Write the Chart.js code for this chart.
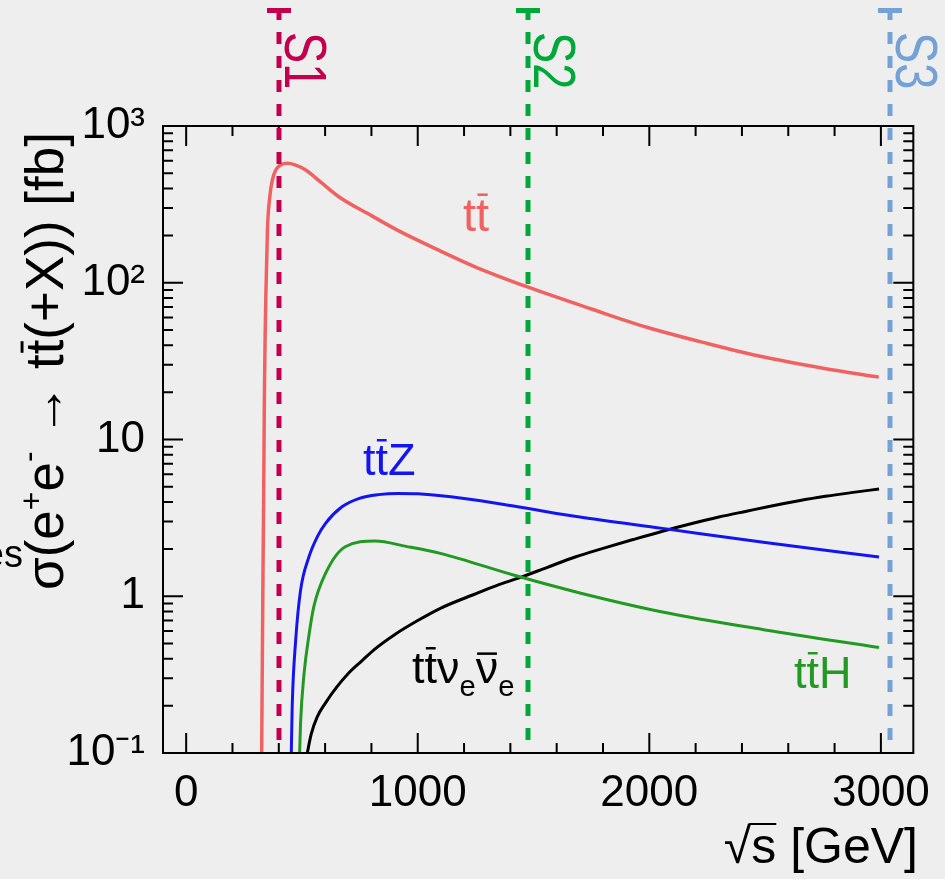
<!DOCTYPE html>
<html>
<head>
<meta charset="utf-8">
<script src="https://cdn.jsdelivr.net/npm/chart.js@4/dist/chart.umd.min.js"></script>
<style>
  html, body { margin: 0; padding: 0; background: #eeeeee; }
  canvas { display: block; }
</style>
</head>
<body>
<canvas id="graficoSecoes" width="945" height="879"></canvas>
<script>
// valores (sqrt(s) em GeV, secao de choque em fb)
const ttX = [326, 331, 335, 338, 341, 344, 351, 361, 372, 387, 408, 437, 470, 516, 580, 659, 800, 916, 1088, 1250, 1474, 1750, 1989, 2250, 2490, 2750, 2991];
const ttY = [0.1, 1, 5, 20, 45, 81, 217, 352, 452, 524, 564, 578, 565, 524, 440, 354, 268, 215, 162, 126, 94, 68, 52, 41, 33.7, 28.5, 25];

const ttZX = [454, 458, 473, 494, 530, 566, 602, 673, 745, 830, 916, 1000, 1200, 1431, 1700, 2057, 2500, 2992];
const ttZY = [0.1, 0.2, 0.525, 1.09, 1.78, 2.39, 2.92, 3.72, 4.2, 4.45, 4.53, 4.5, 4.2, 3.72, 3.2, 2.71, 2.2, 1.78];

const ttHX = [490, 494, 509, 530, 551, 602, 687, 816, 950, 1102, 1417, 1700, 2057, 2500, 2992];
const ttHY = [0.1, 0.155, 0.32, 0.56, 0.855, 1.40, 2.07, 2.25, 2.08, 1.87, 1.36, 1.05, 0.794, 0.61, 0.471];

const ttNuX = [523, 540, 566, 602, 650, 702, 760, 816, 900, 1000, 1100, 1245, 1340, 1444, 1560, 1680, 1800, 1930, 2057, 2180, 2300, 2420, 2517, 2640, 2760, 2880, 2992];
const ttNuY = [0.1, 0.132, 0.17, 0.209, 0.263, 0.324, 0.389, 0.462, 0.569, 0.70, 0.841, 1.03, 1.17, 1.32, 1.53, 1.78, 2.02, 2.30, 2.60, 2.90, 3.20, 3.49, 3.74, 4.05, 4.34, 4.60, 4.83];

const xTicks = [0, 1000, 2000, 3000];
const yTicks = [0.1, 1, 10, 100, 1000];
const yTickLabels = ["10\u207B\u00B9", "1", "10", "10\u00B2", "10\u00B3"];

const stageNames = ["S1", "S2", "S3"];
const stageEnergy = [399, 1478, 3041];

const FONTE = '"Liberation Sans", Arial, Helvetica, sans-serif';

function pontos(xs, ys) {
    return xs.map((x, i) => ({ x: x, y: ys[i] }));
}

// desenha texto com partes (sobrescrito, subscrito, barra) a partir de (0,0)
function textoRico(ctx, partes, tam, cor) {
    let x = 0;
    ctx.fillStyle = cor;
    for (const p of partes) {
        const s = tam * (p.k || 1);
        ctx.font = s + "px " + FONTE;
        const w = ctx.measureText(p.t).width;
        ctx.fillText(p.t, x, (p.dy || 0) * tam);
        if (p.bar) {
            ctx.fillRect(x + s * 0.03, (p.dy || 0) * tam - s * p.bar, w - s * 0.06, Math.max(2, s * 0.055));
        }
        x += w;
    }
    return x;
}

const fundoEMoldura = {
    id: "fundoEMoldura",
    beforeDraw(chart) {
        const ctx = chart.ctx;
        ctx.save();
        ctx.fillStyle = "#eeeeee";
        ctx.fillRect(0, 0, chart.width, chart.height);
        ctx.restore();
    },
    afterDatasetsDraw(chart) {
        const { ctx, chartArea: a, scales: { x, y } } = chart;
        ctx.save();
        ctx.strokeStyle = "#000";
        ctx.lineWidth = 2;
        ctx.strokeRect(a.left, a.top, a.right - a.left, a.bottom - a.top);

        ctx.beginPath();
        for (let v = 0; v <= 3100; v += 200) {
            const px = x.getPixelForValue(v);
            const len = v % 1000 === 0 ? 20 : 10;
            ctx.moveTo(px, a.bottom); ctx.lineTo(px, a.bottom - len);
            ctx.moveTo(px, a.top); ctx.lineTo(px, a.top + len);
        }
        for (let d = -1; d <= 3; d++) {
            for (let m = 1; m <= 9; m++) {
                const v = m * Math.pow(10, d);
                if (v > 1000) break;
                const py = y.getPixelForValue(v);
                const len = m === 1 ? 20 : 10;
                ctx.moveTo(a.left, py); ctx.lineTo(a.left + len, py);
                ctx.moveTo(a.right, py); ctx.lineTo(a.right - len, py);
            }
        }
        ctx.stroke();

        // linhas tracejadas dos estagios
        const cores = ["#c4004e", "#00a83a", "#74a2d6"];
        stageEnergy.forEach((e, i) => {
            const px = Math.round(x.getPixelForValue(e));
            ctx.fillStyle = cores[i];
            ctx.fillRect(px - 12, 8, 24, 5);
            ctx.fillRect(px - 2.5, 8, 5, 12);
            ctx.strokeStyle = cores[i];
            ctx.lineWidth = 5;
            ctx.setLineDash([12, 12]);
            ctx.beginPath();
            ctx.moveTo(px, 32);
            ctx.lineTo(px, 746);
            ctx.stroke();
            ctx.setLineDash([]);

            ctx.save();
            ctx.translate(px + 6, 32);
            ctx.rotate(Math.PI / 2);
            ctx.scale(0.78, 1);
            ctx.font = "60px " + FONTE;
            ctx.textBaseline = "alphabetic";
            ctx.fillText(stageNames[i], 0, 0);
            ctx.restore();
        });
        ctx.restore();
    },
    afterDraw(chart) {
        const ctx = chart.ctx;
        ctx.save();
        ctx.textBaseline = "alphabetic";
        ctx.textAlign = "left";

        // titulo do eixo y
        ctx.save();
        ctx.translate(63, 590);
        ctx.rotate(-Math.PI / 2);
        textoRico(ctx, [
            { t: "\u03C3(e" },
            { t: "+", k: 0.6, dy: -0.4 },
            { t: "e" },
            { t: "-", k: 0.6, dy: -0.45 },
            { t: " \u2192 t" },
            { t: "t", bar: 0.8 },
            { t: "(+X)) [fb]" }
        ], 53, "#000");
        ctx.restore();

        // titulo do eixo x
        ctx.font = "50px " + FONTE;
        const wRaiz = ctx.measureText("\u221A").width;
        const wS = ctx.measureText("s").width;
        const wResto = ctx.measureText(" [GeV]").width;
        const x0 = 918 - (wRaiz + wS + wResto);
        ctx.fillStyle = "#000";
        ctx.fillText("\u221A", x0, 863);
        ctx.fillText("s", x0 + wRaiz, 863);
        ctx.fillRect(x0 + wRaiz - 2, 863 - 50 * 0.8, wS + 2, 2);
        ctx.fillText(" [GeV]", x0 + wRaiz + wS, 863);

        // rotulos das curvas
        const rotulo = (x, y, partes, tam, cor) => {
            ctx.save();
            ctx.translate(x, y);
            textoRico(ctx, partes, tam, cor);
            ctx.restore();
        };
        rotulo(463, 231, [{ t: "t" }, { t: "t", bar: 0.8 }], 47, "#f06262");
        rotulo(363, 475, [{ t: "t" }, { t: "t", bar: 0.8 }, { t: "Z" }], 45, "#1414f0");
        rotulo(794, 688, [{ t: "t" }, { t: "t", bar: 0.8 }, { t: "H" }], 45, "#229922");
        rotulo(412, 683, [
            { t: "t" }, { t: "t", bar: 0.8 },
            { t: "\u03BD" }, { t: "e", k: 0.65, dy: 0.28 },
            { t: "\u03BD", bar: 0.68 }, { t: "e", k: 0.65, dy: 0.28 }
        ], 45, "#000");

        // pedaco de texto cortado na margem esquerda
        ctx.font = "38px " + FONTE;
        ctx.fillStyle = "#000";
        ctx.textAlign = "right";
        ctx.fillText("es", 23, 567);
        ctx.restore();
    }
};

const ctx = document.getElementById("graficoSecoes").getContext("2d");

new Chart(ctx, {
    type: "line",
    data: {
        datasets: [
            { label: "ttbar", data: pontos(ttX, ttY), borderColor: "#f06262", borderWidth: 3.5 },
            { label: "ttZ", data: pontos(ttZX, ttZY), borderColor: "#1414f0", borderWidth: 3 },
            { label: "ttH", data: pontos(ttHX, ttHY), borderColor: "#229922", borderWidth: 3 },
            { label: "ttnunu", data: pontos(ttNuX, ttNuY), borderColor: "#000000", borderWidth: 3 }
        ]
    },
    options: {
        responsive: false,
        animation: false,
        devicePixelRatio: 1,
        layout: { padding: { top: 126, right: 27, left: 0, bottom: 0 } },
        elements: {
            point: { radius: 0 },
            line: { cubicInterpolationMode: "monotone", fill: false }
        },
        plugins: {
            legend: { display: false },
            tooltip: { enabled: false }
        },
        scales: {
            x: {
                type: "linear",
                min: -100,
                max: 3140,
                grid: { display: false, drawTicks: false },
                border: { display: false },
                afterBuildTicks: s => { s.ticks = xTicks.map(v => ({ value: v })); },
                afterFit: s => { s.height = 126; },
                ticks: {
                    autoSkip: false,
                    maxRotation: 0,
                    padding: 14,
                    color: "#000",
                    font: { family: FONTE, size: 44 },
                    callback: v => String(v)
                }
            },
            y: {
                type: "logarithmic",
                min: 0.1,
                max: 1000,
                grid: { display: false, drawTicks: false },
                border: { display: false },
                afterBuildTicks: s => { s.ticks = yTicks.map(v => ({ value: v, major: true })); },
                afterFit: s => { s.width = 163; },
                ticks: {
                    autoSkip: false,
                    padding: 18,
                    color: "#000",
                    font: { family: FONTE, size: 44 },
                    callback: v => yTickLabels[yTicks.indexOf(v)]
                }
            }
        }
    },
    plugins: [fundoEMoldura]
});
</script>
</body>
</html>
